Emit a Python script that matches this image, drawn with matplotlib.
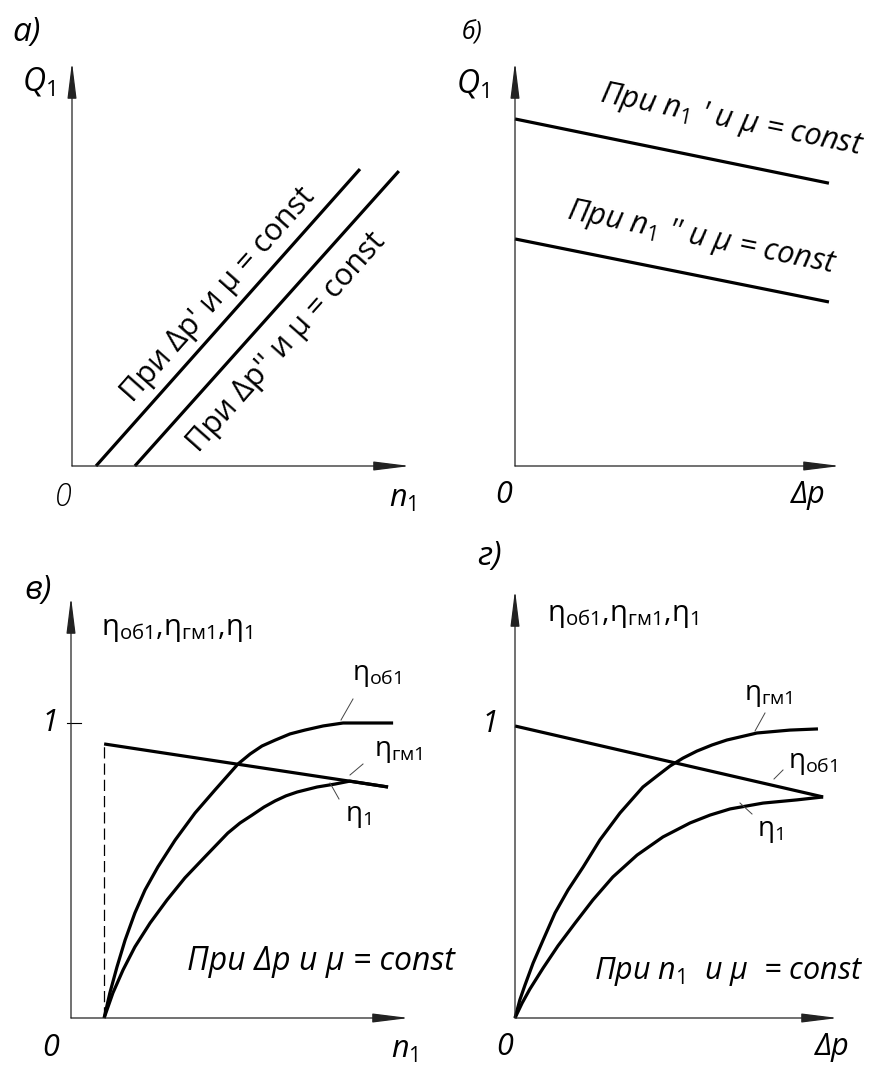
import matplotlib
matplotlib.use("Agg")
import matplotlib.pyplot as plt

plt.rcParams['font.family'] = ['Open Sans', 'DejaVu Sans']
plt.rcParams['mathtext.fontset'] = 'custom'
plt.rcParams['mathtext.rm'] = 'Open Sans'
plt.rcParams['mathtext.it'] = 'Open Sans:italic'
plt.rcParams['mathtext.bf'] = 'Open Sans:bold'

W, H = 877, 1075

# а) Q1 = f(n1) at two pressure drops (axis units: 0..1 to the arrow tip)
a_n_dp1 = [0.071, 0.852]
a_q_dp1 = [0.000, 0.735]
a_n_dp2 = [0.186, 0.967]
a_q_dp2 = [0.000, 0.730]

# б) Q1 = f(Δp) at two speeds
b_dp = [0.0, 0.966]
b_q_n1 = [0.859, 0.700]
b_q_n2 = [0.562, 0.406]

# в) efficiencies vs n1
c_n_ob = [0.098, 0.115, 0.136, 0.160, 0.189, 0.219, 0.257, 0.308, 0.367,
          0.426, 0.494, 0.530, 0.565, 0.604, 0.648, 0.692, 0.746, 0.805,
          0.953]
c_eta_ob = [0.0, 0.085, 0.173, 0.264, 0.356, 0.434, 0.512, 0.603, 0.695,
            0.773, 0.861, 0.895, 0.922, 0.942, 0.963, 0.976, 0.990, 1.0,
            1.0]
c_n_gm = [0.098, 0.938]
c_eta_gm = [0.929, 0.783]
c_n_1 = [0.098, 0.124, 0.154, 0.189, 0.234, 0.284, 0.337, 0.396, 0.464,
         0.500, 0.536, 0.571, 0.604, 0.636, 0.669, 0.728, 0.781, 0.825,
         0.938]
c_eta_1 = [0.0, 0.085, 0.163, 0.241, 0.322, 0.400, 0.475, 0.546, 0.627,
           0.661, 0.688, 0.715, 0.736, 0.753, 0.766, 0.783, 0.793, 0.803,
           0.783]

# г) efficiencies vs Δp
d_dp_gm = [0.0, 0.015, 0.031, 0.056, 0.087, 0.124, 0.164, 0.211, 0.263,
           0.325, 0.396, 0.440, 0.480, 0.520, 0.563, 0.610, 0.656, 0.749,
           0.851, 0.938]
d_eta_gm = [0.0, 0.062, 0.113, 0.188, 0.267, 0.360, 0.438, 0.517, 0.610,
            0.702, 0.791, 0.829, 0.863, 0.890, 0.914, 0.935, 0.952, 0.976,
            0.986, 0.990]
d_dp_ob = [0.0, 0.954]
d_eta_ob = [1.0, 0.757]
d_dp_1 = [0.0, 0.022, 0.046, 0.087, 0.133, 0.186, 0.241, 0.303, 0.378,
          0.458, 0.542, 0.604, 0.666, 0.768, 0.873, 0.954]
d_eta_1 = [0.0, 0.051, 0.099, 0.171, 0.247, 0.325, 0.404, 0.483, 0.558,
           0.620, 0.668, 0.695, 0.716, 0.736, 0.747, 0.757]

LW = 2.3
fig = plt.figure(figsize=(W / 100, H / 100), dpi=100)


def panel(x0, y0, x1, y1, ytop):
    # origin (x0, y0) and arrow tips (x1, y1) in pixels
    ax = fig.add_axes([x0 / W, 1 - y0 / H, (x1 - x0) / W, (y0 - y1) / H])
    ax.set_xlim(0, 1)
    ax.set_ylim(0, ytop)
    ax.axis('off')
    style = '-|>,head_length=1.6,head_width=0.2'
    for tip in [(1, 0), (0, 1)]:
        ax.annotate('', xy=tip, xytext=(0, 0), xycoords='axes fraction',
                    arrowprops=dict(arrowstyle=style, lw=0.9, color='#222222',
                                    shrinkA=0, shrinkB=0, mutation_scale=14))
    return ax


def curve(ax, x, y):
    ax.plot(x, y, color='k', lw=LW, solid_joinstyle='round',
            solid_capstyle='butt', clip_on=False)


def put(x, y, s, size=18, style='italic', **kw):
    fig.text(x / W, 1 - y / H, s, ha='center', va='center', fontsize=size,
             fontstyle=style, **kw)


def leader(p0, p1):
    # thin callout line, endpoints in pixels
    xs = [p0[0] / W, p1[0] / W]
    ys = [1 - p0[1] / H, 1 - p1[1] / H]
    fig.add_artist(plt.Line2D(xs, ys, lw=0.7, color='#444444'))


eta_ob = r'$\mathrm{η}_{\mathrm{об1}}$'
eta_gm = r'$\mathrm{η}_{\mathrm{гм1}}$'
eta_1 = r'$\mathrm{η}_{\mathrm{1}}$'
eta_axis = (r'$\mathrm{η}_{\mathrm{об1}}{,}\mathrm{η}_{\mathrm{гм1}}{,}'
            r'\mathrm{η}_{\mathrm{1}}$')
n1 = r'$\mathit{n}_{\mathit{1}}$'
q1 = r'$\mathit{Q}_{\mathit{1}}$'

# а)
ax = panel(72, 466, 410, 62, 1.0)
curve(ax, a_n_dp1, a_q_dp1)
curve(ax, a_n_dp2, a_q_dp2)
put(27, 33, 'а)', size=24)
put(38, 82, q1, size=23)
put(63, 497, '0', size=22, fontweight='light')
put(403, 499, n1, size=22)
put(218, 295, "При Δp' и μ = const", size=22, style='normal',
    rotation=48.4, rotation_mode='anchor')
put(287, 342, "При Δp'' и μ = const", size=22, style='normal',
    rotation=48.4, rotation_mode='anchor')

# б)
ax = panel(515, 466, 840, 62, 1.0)
curve(ax, b_dp, b_q_n1)
curve(ax, b_dp, b_q_n2)
put(472, 33, 'б)', size=18)
put(472, 84, q1, size=23)
put(504, 495, '0', size=22)
put(808, 495, 'Δp', size=22)
put(732, 121, "При " + n1 + " ' и μ = const", size=22,
    rotation=-11.5, rotation_mode='anchor')
put(702, 238, "При " + n1 + " '' и μ = const", size=22,
    rotation=-11.5, rotation_mode='anchor')

# в)
ax = panel(71, 1018, 409, 597, 421 / 295)
ax.plot([c_n_gm[0], c_n_gm[0]], [0, c_eta_gm[0]], color='k', lw=0.9,
        dashes=(9, 4))
curve(ax, c_n_ob, c_eta_ob)
curve(ax, c_n_gm, c_eta_gm)
curve(ax, c_n_1, c_eta_1)
ax.plot([-0.012, 0.03], [1, 1], color='k', lw=0.8, clip_on=False)
put(38, 591, 'в)', size=24)
put(177, 630, eta_axis, size=21, style='normal')
put(50, 723, '1', size=22)
put(51, 1048, '0', size=22)
put(405, 1050, n1, size=22)
put(321, 962, 'При Δp и μ = const', size=23)
put(377, 675, eta_ob, size=20, style='normal')
put(398, 751, eta_gm, size=20, style='normal')
put(358, 816, eta_1, size=20, style='normal')
leader((353, 699), (341, 720))
leader((363, 764), (350, 775))
leader((339, 799), (330, 783))

# г)
ax = panel(515, 1018, 838, 590, 428 / 292)
curve(ax, d_dp_gm, d_eta_gm)
curve(ax, d_dp_ob, d_eta_ob)
curve(ax, d_dp_1, d_eta_1)
put(490, 556, 'г)', size=24)
put(623, 615, eta_axis, size=21, style='normal')
put(490, 724, '1', size=22)
put(505, 1047, '0', size=22)
put(832, 1047, 'Δp', size=22)
put(729, 972, 'При ' + n1 + '  и μ  = const', size=22)
put(768, 695, eta_gm, size=20, style='normal')
put(813, 763, eta_ob, size=20, style='normal')
put(770, 831, eta_1, size=20, style='normal')
leader((765, 713), (755, 731))
leader((783, 770), (774, 779))
leader((752, 814), (740, 803))

fig.savefig('out.png', dpi=100)
